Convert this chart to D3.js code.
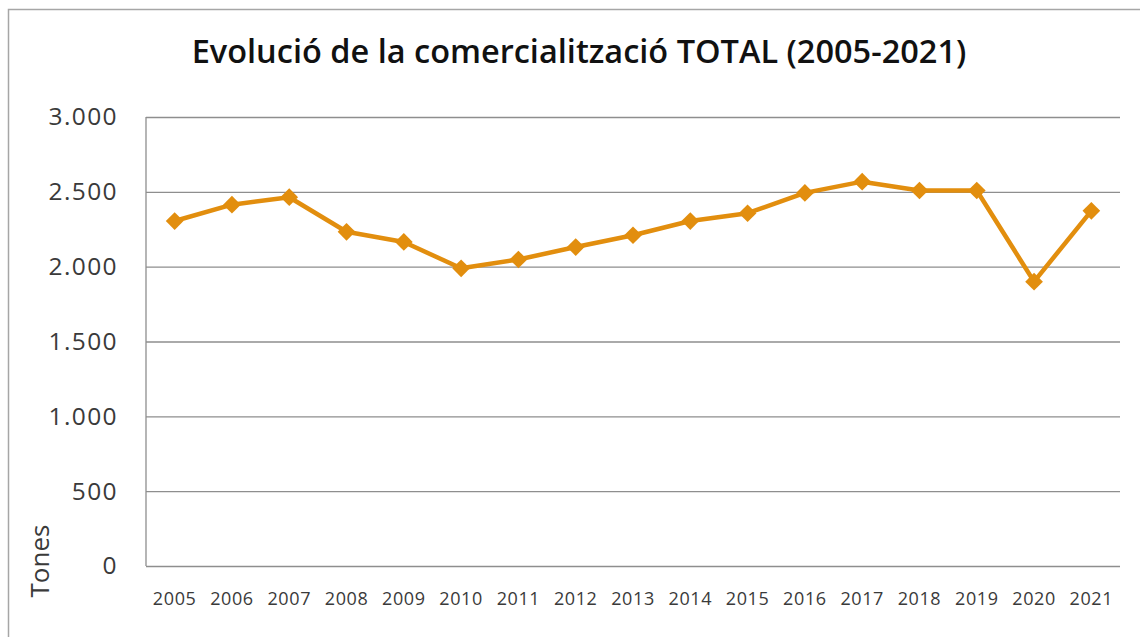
<!DOCTYPE html>
<html>
<head>
<meta charset="utf-8">
<script src="https://cdn.jsdelivr.net/npm/d3@7"></script>
<style>
  body { margin: 0; background: #fff; }
  svg { display: block; font-family: "Open Sans", sans-serif; }
</style>
</head>
<body>
<div class="chart"></div>
<script>
// data
var years = ["2005","2006","2007","2008","2009","2010","2011","2012","2013",
             "2014","2015","2016","2017","2018","2019","2020","2021"];
var tones = [2305, 2414, 2464, 2233, 2165, 1989, 2048, 2131, 2210,
             2305, 2357, 2493, 2568, 2509, 2509, 1900, 2373];
var yTicks = [0, 500, 1000, 1500, 2000, 2500, 3000];
var title = "Evolució de la comercialització TOTAL (2005-2021)";

var W = 1140, H = 637;
var margin = {top: 117, right: 20, bottom: 71, left: 146};

var svg = d3.select("div.chart")
            .append("svg")
            .attr("width", W)
            .attr("height", H);

// outer frame (only left and top edges show)
svg.append("path")
   .attr("d", "M8.5," + H + "V9.5H" + W)
   .attr("fill", "none")
   .attr("stroke", "#a6a6a6")
   .attr("stroke-width", 1.5);

var x = d3.scaleBand()
          .domain(years)
          .range([margin.left, W - margin.right]);

var y = d3.scaleLinear()
          .domain([0, 3000])
          .range([H - margin.bottom, margin.top]);

var fmt = function(d){ return d3.format(",")(d).replace(/,/g, "."); };

// gridlines
svg.append("g")
   .attr("class", "grid")
   .attr("transform", "translate(" + margin.left + ",0)")
   .call(d3.axisLeft(y)
           .tickValues(yTicks)
           .tickSize(-(W - margin.right - margin.left))
           .tickFormat(""))
   .call(function(g){
     g.select(".domain").remove();
     g.selectAll("line").attr("stroke", "#8e8e8e").attr("stroke-width", 1.3);
   });

// left axis line
svg.append("line")
   .attr("x1", margin.left).attr("x2", margin.left)
   .attr("y1", y(3000)).attr("y2", y(0))
   .attr("stroke", "#8e8e8e")
   .attr("stroke-width", 1.3);

// y tick labels
svg.append("g")
   .attr("transform", "translate(" + (margin.left - 25) + ",0)")
   .call(d3.axisLeft(y).tickValues(yTicks).tickSize(0).tickFormat(fmt))
   .call(function(g){
     g.select(".domain").remove();
     g.selectAll("text")
      .attr("font-family", "Open Sans, sans-serif")
      .attr("font-size", 24.5)
      .attr("letter-spacing", 1.4)
      .attr("fill", "#3a3a3a");
   });

// x tick labels
svg.append("g")
   .attr("transform", "translate(0," + (y(0) + 23) + ")")
   .call(d3.axisBottom(x).tickSize(0))
   .call(function(g){
     g.select(".domain").remove();
     g.selectAll("text")
      .attr("font-family", "Open Sans, sans-serif")
      .attr("font-size", 18)
      .attr("letter-spacing", 0.6)
      .attr("fill", "#3a3a3a");
   });

// axis title
svg.append("text")
   .attr("transform", "translate(49,561) rotate(-90)")
   .attr("text-anchor", "middle")
   .attr("font-size", 26)
   .attr("fill", "#3a3a3a")
   .text("Tones");

// chart title
svg.append("text")
   .attr("x", 579)
   .attr("y", 63)
   .attr("text-anchor", "middle")
   .attr("font-size", 32.5)
   .attr("font-weight", 600)
   .attr("fill", "#111")
   .text(title);

var cx = function(d, i){ return x(years[i]) + x.bandwidth() / 2; };

var line = d3.line()
             .x(function(d, i){ return cx(d, i); })
             .y(function(d){ return y(d); });

svg.append("path")
   .datum(tones)
   .attr("d", line)
   .attr("fill", "none")
   .attr("stroke", "#e28e0e")
   .attr("stroke-width", 4.5)
   .attr("stroke-linejoin", "round");

svg.selectAll(".marker")
   .data(tones)
   .enter()
   .append("path")
     .attr("class", "marker")
     .attr("d", d3.symbol().type(d3.symbolDiamond2).size(200))
     .attr("transform", function(d, i){
       return "translate(" + cx(d, i) + "," + y(d) + ")";
     })
     .attr("fill", "#e28e0e");
</script>
</body>
</html>
